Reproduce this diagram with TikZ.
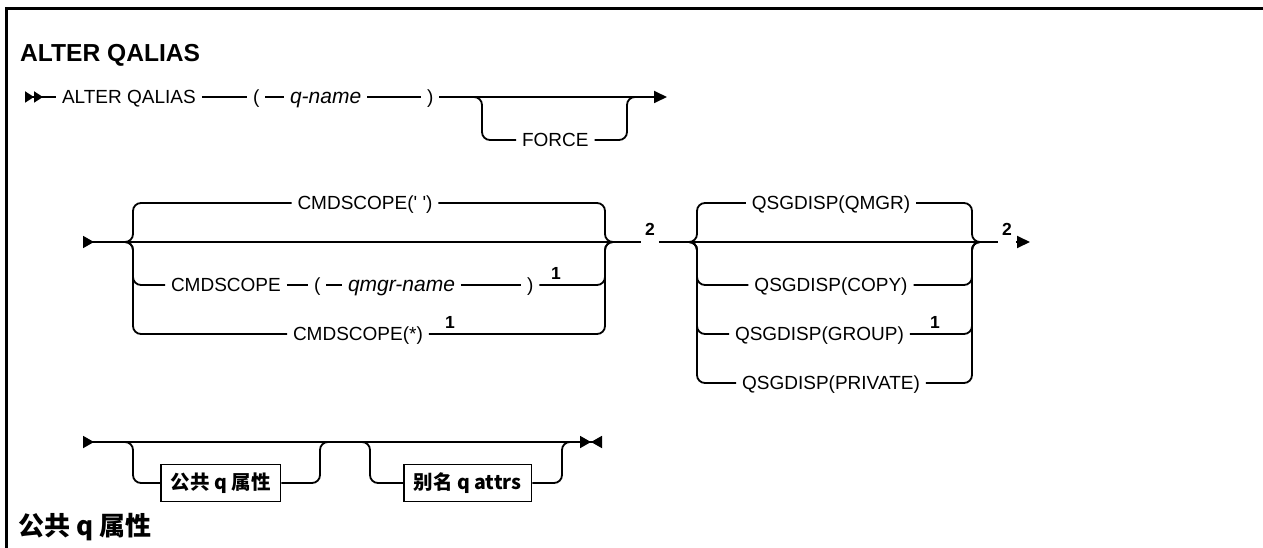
\documentclass[tikz,border=0pt]{standalone}
\usepackage{fontspec}
\setmainfont{Liberation Sans}
\newfontfamily\cjk{Noto Sans CJK SC}
\usetikzlibrary{arrows.meta}

\begin{document}
\begin{tikzpicture}[x=1pt,y=-1pt,
  rail/.style={line width=1.8pt, rounded corners=8pt},
  kw/.style={font=\fontsize{19}{22}\selectfont, inner sep=0pt, outer xsep=6pt, text height=13.6pt, text depth=0pt},
  var/.style={kw, font=\fontsize{21}{24}\selectfont\itshape},
  fnote/.style={font=\fontsize{17.5}{20}\selectfont\bfseries, inner sep=0pt, outer xsep=4pt},
  attrbox/.style={draw, line width=1.5pt, font=\fontsize{19.5}{22}\selectfont\cjk\bfseries, inner xsep=10pt, minimum height=37pt}]
\useasboundingbox (0,0) rectangle (1263,548);
\draw[line width=3pt] (6.5,548) |- (1263,8.5);
\node[font=\fontsize{24.6}{28}\selectfont\bfseries, anchor=west, inner sep=0pt] (title) at (20,55) {ALTER QALIAS};

% first line
\coordinate (s1) at (25,97);
\coordinate (f1) at (473,97);
\coordinate (f2) at (636,97);
\coordinate (e1) at (667,97);
\node[kw, anchor=west] (alter) at (56,97) {ALTER QALIAS};
\node[kw, anchor=west] (lp1) at (247,97) {(};
\node[var, anchor=west] (qname) at (284,97) {q-name};
\node[kw, anchor=west] (rp1) at (421,97) {)};
\node[kw, anchor=west] (force) at (516,140) {FORCE};
\draw[rail, {Triangle[reversed,length=9pt,width=11pt]Triangle[reversed,length=9pt,width=11pt]}-] (s1) -- (alter);
\draw[rail] (alter) -- (lp1);
\draw[rail] (lp1) -- (qname);
\draw[rail] (qname) -- (rp1);
\draw[rail, -{Triangle[length=13pt,width=12pt]}] (rp1) -- (e1);
\draw[rail] (f1) -| (482,140) -- (force.west);
\draw[rail] (force.east) -| (627,97) -- (f2);

% second line
\coordinate (s2) at (83,242);
\coordinate (jL) at (125,242);
\coordinate (jR) at (613,242);
\coordinate (qL) at (687,242);
\coordinate (qR) at (980,242);
\coordinate (e2) at (1030,242);
\node[kw] (cs1) at (365,203) {CMDSCOPE(\textquotesingle{} \textquotesingle)};
\node[kw, anchor=west] (cs2) at (165,285) {CMDSCOPE};
\node[kw, anchor=west] (lp2) at (308,285) {(};
\node[var, anchor=west] (qmgr) at (342,285) {qmgr-name};
\node[kw, anchor=west] (rp2) at (521,285) {)};
\node[fnote] (fn1) at (556,273) {1};
\node[kw, anchor=west] (cs3) at (287,334) {CMDSCOPE(*)};
\node[fnote] (fn2) at (450,322) {1};
\node[fnote] (two1) at (650,229) {2};
\node[kw] (qs1) at (831,203) {QSGDISP(QMGR)};
\node[kw] (qs2) at (831,285) {QSGDISP(COPY)};
\node[kw, anchor=west] (qs3) at (729,334) {QSGDISP(GROUP)};
\node[fnote] (fn3) at (935,322) {1};
\node[kw] (qs4) at (831,383) {QSGDISP(PRIVATE)};
\node[fnote] (two2) at (1007,229) {2};
\draw[rail, {Triangle[reversed,length=11pt,width=12pt]}-] (s2) -- (jL) -- (jR) -- (two1.west |- jR);
\draw[rail] (jL) -| (133,203) -- (cs1.west);
\draw[rail] (cs1.east) -| (605,242) -- (jR);
\draw[rail] (jL) -| (133,285) -- (cs2.west);
\draw[rail] (cs2) -- (lp2);
\draw[rail] (lp2) -- (qmgr);
\draw[rail] (qmgr) -- (rp2);
\draw[rail] (rp2.east) -| (605,242) -- (jR);
\draw[rail] (jL) -| (133,334) -- (cs3.west);
\draw[rail] (cs3.east) -| (605,242) -- (jR);
\draw[rail] (two1.east |- jR) -- (qL) -- (qR) -- (two2.west |- qR);
\draw[rail, -{Triangle[length=13pt,width=12pt]}] (two2.east |- qR) -- (e2);
\draw[rail] (qL) -| (697,203) -- (qs1.west);
\draw[rail] (qs1.east) -| (972,242) -- (qR);
\draw[rail] (qL) -| (697,285) -- (qs2.west);
\draw[rail] (qs2.east) -| (972,242) -- (qR);
\draw[rail] (qL) -| (697,334) -- (qs3.west);
\draw[rail] (qs3.east) -| (972,242) -- (qR);
\draw[rail] (qL) -| (697,383) -- (qs4.west);
\draw[rail] (qs4.east) -| (972,242) -- (qR);

% third line
\coordinate (s3) at (83,442);
\coordinate (b1L) at (122,442);
\coordinate (b1R) at (328,442);
\coordinate (b2L) at (360,442);
\coordinate (b2R) at (570,442);
\coordinate (e3) at (602,442);
\node[attrbox, anchor=west] (pubq) at (160,483) {公共 q 属性};
\node[attrbox, anchor=west] (aliasq) at (403,483) {别名 q attrs};
\draw[rail, {Triangle[reversed,length=11pt,width=12pt]}-{Triangle[length=11pt,width=12pt]Triangle[reversed,length=11pt,width=12pt]}] (s3) -- (e3);
\draw[rail] (b1L) -| (133,483) -- (pubq.west);
\draw[rail] (pubq.east) -| (320,442) -- (b1R);
\draw[rail] (b2L) -| (370,483) -- (aliasq.west);
\draw[rail] (aliasq.east) -| (562,442) -- (b2R);

\node[font=\fontsize{26}{29}\selectfont\cjk\bfseries, anchor=west, inner sep=0pt] (heading) at (18,527) {公共 q 属性};
\end{tikzpicture}
\end{document}
